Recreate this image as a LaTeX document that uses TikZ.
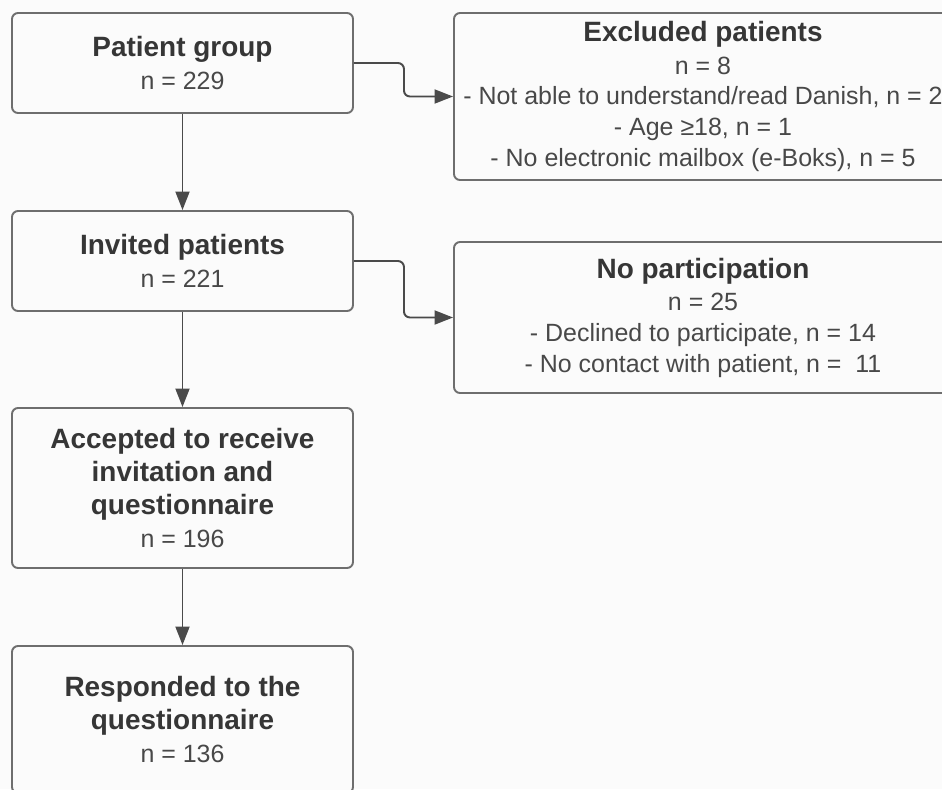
\documentclass[tikz,border=0pt]{standalone}
\usepackage{fontspec}
\setmainfont{Liberation Sans}
\usetikzlibrary{arrows.meta}

\definecolor{boxline}{HTML}{6E6E6E}
\definecolor{headtxt}{HTML}{363636}
\definecolor{bodytxt}{HTML}{484848}
\definecolor{arrline}{HTML}{4A4A4A}
\definecolor{paper}{HTML}{FBFBFB}
\newcommand{\hd}[1]{{\color{headtxt}\bfseries\fontsize{15.9pt}{18.5pt}\selectfont #1}}

\begin{document}
\begin{tikzpicture}[
    fbase/.style = {draw=boxline, line width=1.1pt, rounded corners=0.12cm,
                    fill=paper, text=bodytxt, align=center, inner sep=0pt,
                    font=\fontsize{14.2pt}{17.5pt}\selectfont},
    fmain/.style = {fbase, minimum width=6.82cm},
    fside/.style = {fbase, minimum width=9.96cm},
    arr/.style   = {-{Triangle[length=0.37cm,width=0.28cm]}, line width=1.1pt,
                    draw=arrline},
  ]

  \path[use as bounding box, clip] (0,0) rectangle (18.84,-15.78);
  \fill[paper] (0,0) rectangle (18.84,-15.78);

  \node[fmain, minimum height=2.00cm] (pg) at (3.65cm, -1.26cm)
    {\hd{Patient group}\\[1.0pt] n = 229};
  \node[fside, minimum height=3.34cm] (ex) at (14.06cm, -1.93cm)
    {\hd{Excluded patients}\\[1.0pt] n = 8\\
     - Not able to understand/read Danish, n = 2\\
     - Age ≥18, n = 1\\
     - No electronic mailbox (e-Boks), n = 5};
  \node[fmain, minimum height=2.00cm] (inv) at (3.65cm, -5.22cm)
    {\hd{Invited patients}\\[1.0pt] n = 221};
  \node[fside, minimum height=3.02cm] (np) at (14.06cm, -6.35cm)
    {\hd{No participation}\\[1.0pt] n = 25\\
     - Declined to participate, n = 14\\
     - No contact with patient, n = \ 11};
  \node[fmain, minimum height=3.20cm] (acc) at (3.65cm, -9.76cm)
    {\hd{Accepted to receive}\\[1.4pt]\hd{invitation and}\\[1.4pt]
     \hd{questionnaire}\\[1.0pt] n = 196};
  \node[fmain, minimum height=2.94cm] (resp) at (3.65cm, -14.39cm)
    {\hd{Responded to the}\\[1.4pt]\hd{questionnaire}\\[1.0pt] n = 136};

  \draw[arr] (pg) -- (inv);
  \draw[arr] (inv) -- (acc);
  \draw[arr] (acc) -- (resp);
  \draw[arr, rounded corners=0.12cm] (pg.east) -- ++(1.0,0) |- (ex.west);
  \draw[arr, rounded corners=0.12cm] (inv.east) -- ++(1.0,0) |- (np.west);

\end{tikzpicture}
\end{document}
